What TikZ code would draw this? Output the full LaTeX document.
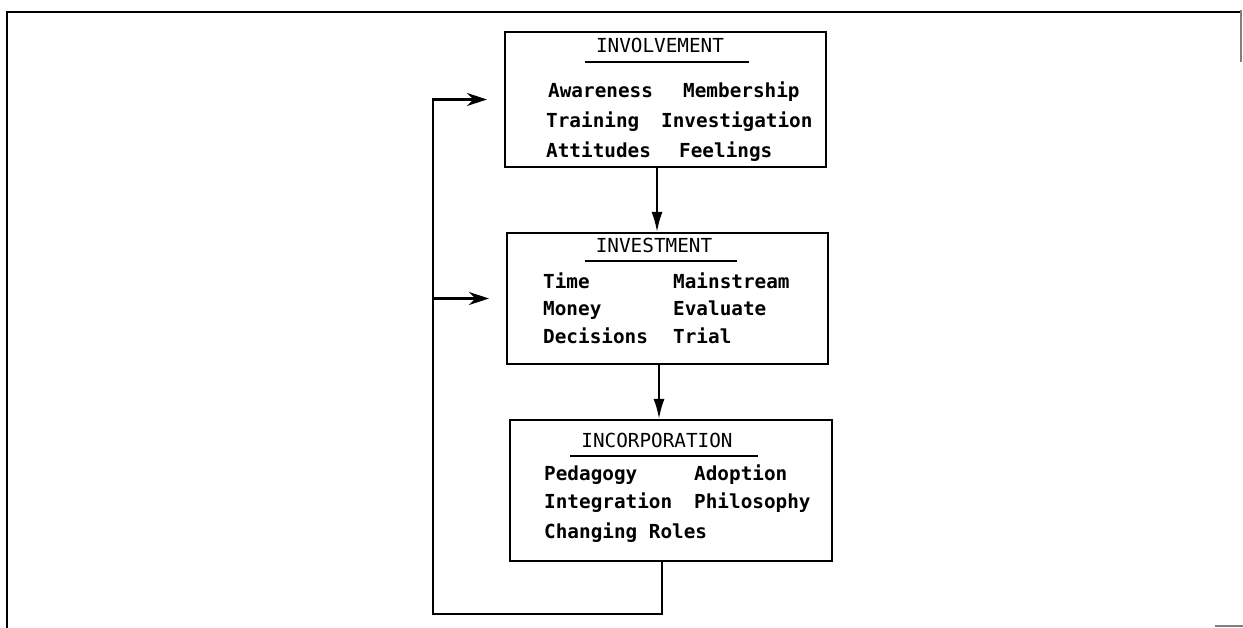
\documentclass[tikz,border=0pt]{standalone}
\usepackage{fontspec}
\newfontfamily\plotfont{DejaVu Sans Mono}
\usetikzlibrary{arrows.meta}

\begin{document}
\begin{tikzpicture}[x=0.02cm,y=-0.02cm,
stage/.style={draw, line width=1.2pt, inner sep=0pt, minimum width=6.42cm},
head/.style={anchor=base, font=\plotfont\fontsize{11}{13}\selectfont},
item/.style={anchor=base west, font=\plotfont\bfseries\fontsize{11}{13}\selectfont},
flow/.style={line width=1.2pt, -{Latex[length=4mm,width=2.2mm]}},
back/.style={line width=1.2pt, -{Stealth[length=4mm,width=2.6mm]}, shorten >=3.4mm}
]
\useasboundingbox (0,0) rectangle (1243,628);

% page frame
\draw[line width=1.6pt] (7,628) -- (7,12) -- (1240,12);
\draw[gray, line width=0.8pt] (1241,10) -- (1241,62);
\draw[gray, line width=1pt] (1215,626) -- (1243,626);

% the three stages
\node[stage, minimum height=2.7cm] (invol) at (665.5,99.5) {};
\node[stage, minimum height=2.62cm] (inves) at (667.5,298.5) {};
\node[stage, minimum height=2.82cm, minimum width=6.44cm] (incor) at (671,490.5) {};

\node[head] (tinvol) at (660,53) {INVOLVEMENT};
\node[head] (tinves) at (654,252) {INVESTMENT};
\node[head] (tincor) at (657,447) {INCORPORATION};
\foreach \t in {tinvol,tinves,tincor}
  \draw[line width=1pt] ([shift={(-5,9)}]\t.base west) -- ([shift={(19,9)}]\t.base east);

\node[item] (aware) at (542,98) {Awareness};
\node[item] (member) at (677,98) {Membership};
\node[item] (train) at (540,128) {Training};
\node[item] (invest) at (655,128) {Investigation};
\node[item] (attit) at (540,158) {Attitudes};
\node[item] (feel) at (673,158) {Feelings};

\node[item] (time) at (537,288) {Time};
\node[item] (main) at (667,288) {Mainstream};
\node[item] (money) at (537,315) {Money};
\node[item] (eval) at (667,315) {Evaluate};
\node[item] (decis) at (537,343) {Decisions};
\node[item] (trial) at (667,343) {Trial};

\node[item] (pedag) at (538,480) {Pedagogy};
\node[item] (adopt) at (688,480) {Adoption};
\node[item] (integ) at (538,508) {Integration};
\node[item] (philo) at (688,508) {Philosophy};
\node[item] (roles) at (538,538) {Changing Roles};

% arrows
\draw[flow] ([xshift=-1.7mm]invol.south) -- ([xshift=-1.7mm]invol.south |- inves.north);
\draw[flow] ([xshift=-1.7mm]inves.south) -- ([xshift=-1.7mm]inves.south |- incor.north);

\coordinate (loop) at (433,614);
\draw[back] ([xshift=-1.8mm]incor.south) |- (loop) |- (invol.west);
\draw[back] (loop |- inves.west) -- (inves.west);
\end{tikzpicture}
\end{document}
